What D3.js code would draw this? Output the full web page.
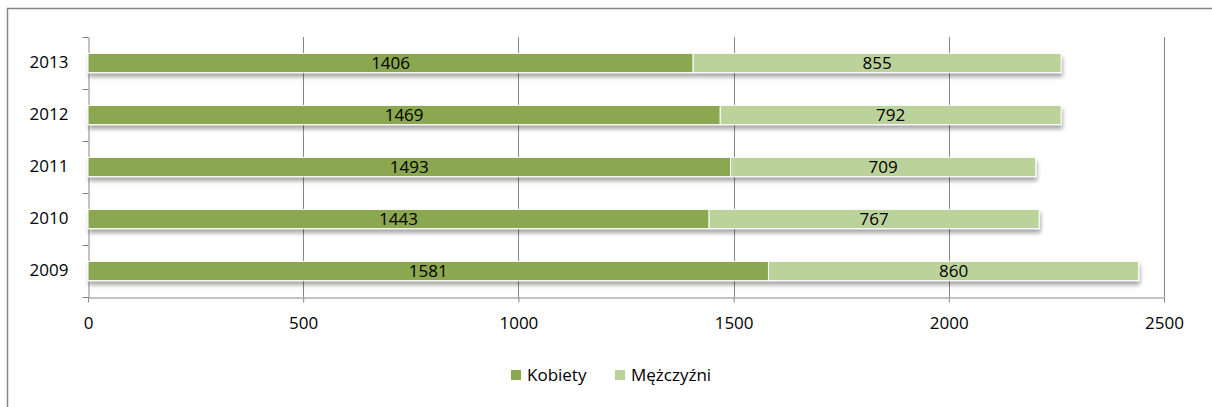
<!DOCTYPE html>
<html>
<head>
<meta charset="utf-8">
<script src="https://cdn.jsdelivr.net/npm/d3@7"></script>
<style>
  body { margin: 0; background: #fff; }
  svg text { font-family: "Open Sans", "Noto Sans", sans-serif; fill: #000; }
</style>
</head>
<body>
<div id="chart"></div>
<script>
// data
var years = ["2013", "2012", "2011", "2010", "2009"];
var kobiety = [1406, 1469, 1493, 1443, 1581];
var mezczyzni = [855, 792, 709, 767, 860];
var seriesNames = ["Kobiety", "Mężczyźni"];
var xTicks = [0, 500, 1000, 1500, 2000, 2500];

var width = 1212, height = 407;
var margin = { top: 37, left: 88, right: 48, bottom: 110 };
var colors = ["#8ba74f", "#bcd29b"];
var fontSize = "17px";

var svg = d3.select("#chart").append("svg")
    .attr("width", width)
    .attr("height", height);

// drop shadow for the bars
var defs = svg.append("defs");
var f = defs.append("filter").attr("id", "shadow")
    .attr("x", "-5%").attr("y", "-50%").attr("width", "110%").attr("height", "250%");
f.append("feGaussianBlur").attr("in", "SourceAlpha").attr("stdDeviation", 2);
f.append("feOffset").attr("dx", 1).attr("dy", 4).attr("result", "blur");
f.append("feComponentTransfer").append("feFuncA").attr("type", "linear").attr("slope", 0.35);
var fm = f.append("feMerge");
fm.append("feMergeNode");
fm.append("feMergeNode").attr("in", "SourceGraphic");

// outer chart border (only left and top visible)
svg.append("path")
    .attr("d", "M7.5," + height + "V8.5H" + width)
    .attr("fill", "none")
    .attr("stroke", "#868686")
    .attr("stroke-width", 1.5);

var x = d3.scaleLinear().domain([0, 2500]).range([margin.left, width - margin.right]);
var y = d3.scaleBand().domain(years).range([margin.top, height - margin.bottom]).paddingInner(0.63).paddingOuter(0.315);

var yBand = d3.scaleBand().domain(years).range([margin.top, height - margin.bottom]);

// vertical grid
svg.append("g").selectAll("line")
    .data(xTicks.slice(1))
    .enter().append("line")
    .attr("x1", d => Math.round(x(d)) + 0.5)
    .attr("x2", d => Math.round(x(d)) + 0.5)
    .attr("y1", margin.top)
    .attr("y2", height - margin.bottom)
    .attr("stroke", "#878787")
    .attr("stroke-width", 1);

// x axis
var xAxis = svg.append("g")
    .attr("transform", "translate(0," + (Math.round(height - margin.bottom) + 0.5) + ")")
    .call(d3.axisBottom(x).tickValues(xTicks).tickFormat(d3.format("d"))
      .tickSize(5).tickPadding(14).tickSizeOuter(0));
xAxis.select(".domain").attr("stroke", "#878787");
xAxis.selectAll(".tick line").attr("stroke", "#878787");
xAxis.selectAll("text").style("font-size", fontSize);

// y axis with ticks between categories
var yAxis = svg.append("g")
    .attr("transform", "translate(" + (Math.round(margin.left) + 0.5) + ",0)")
    .call(d3.axisLeft(yBand).tickSize(0).tickPadding(20));
yAxis.select(".domain").attr("stroke", "#878787");
yAxis.selectAll("text").style("font-size", fontSize);
var bounds = years.map(d => yBand(d)).concat([height - margin.bottom]);
yAxis.selectAll(".sep").data(bounds).enter().append("line")
    .attr("x1", -6).attr("x2", 0)
    .attr("y1", d => Math.round(d) + 0.5).attr("y2", d => Math.round(d) + 0.5)
    .attr("stroke", "#878787");

// stacked bars
var rows = years.map((yr, i) => ({ year: yr, vals: [kobiety[i], mezczyzni[i]] }));
var barG = svg.append("g");
rows.forEach(function(r) {
  var g = barG.append("g").attr("filter", "url(#shadow)");
  var start = 0;
  r.vals.forEach(function(v, j) {
    g.append("rect")
      .attr("x", x(start))
      .attr("y", y(r.year))
      .attr("width", x(start + v) - x(start))
      .attr("height", y.bandwidth())
      .attr("fill", colors[j])
      .attr("stroke", "#fff")
      .attr("stroke-width", 1);
    start += v;
  });
});
rows.forEach(function(r) {
  var start = 0;
  r.vals.forEach(function(v) {
    barG.append("text")
      .attr("x", (x(start) + x(start + v)) / 2)
      .attr("y", y(r.year) + y.bandwidth() / 2)
      .attr("dy", "0.35em")
      .attr("text-anchor", "middle")
      .style("font-size", fontSize)
      .text(v);
    start += v;
  });
});

// legend
var legend = svg.append("g").attr("transform", "translate(511,375)");
var lx = [0, 104];
seriesNames.forEach(function(name, i) {
  legend.append("rect")
    .attr("x", lx[i]).attr("y", -5)
    .attr("width", 10).attr("height", 10)
    .attr("fill", colors[i]);
  legend.append("text")
    .attr("x", lx[i] + 16).attr("y", 0).attr("dy", "0.35em")
    .style("font-size", fontSize)
    .text(name);
});
</script>
</body>
</html>
